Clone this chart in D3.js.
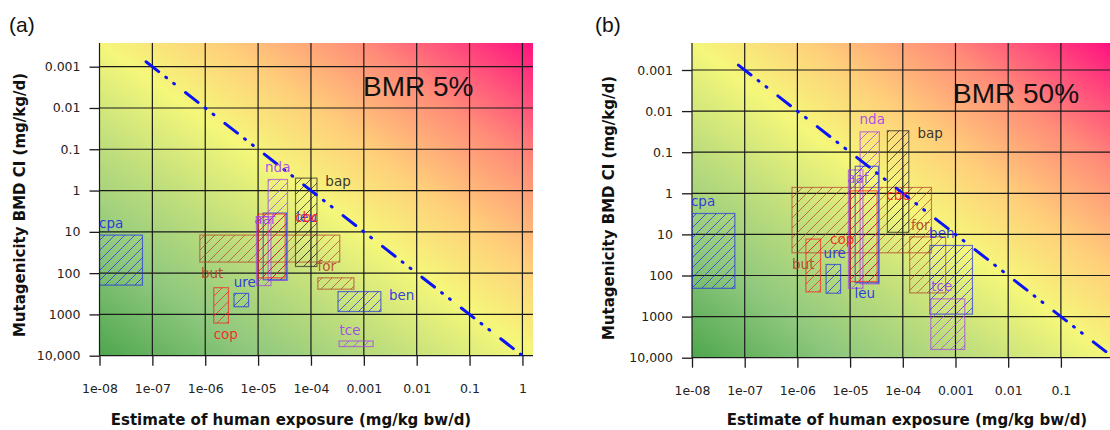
<!DOCTYPE html>
<meta charset="utf-8">
<style>
body { margin: 0; background: #fff; }
.tick text { font: 12.5px "DejaVu Sans", sans-serif; fill: #222; }
.tick line { stroke: #1a1a1a; stroke-width: 1.3; }
.grid line { stroke: #1a1a1a; stroke-width: 1.2; }
.titles { font: bold 15px "DejaVu Sans", sans-serif; fill: #111; }
.lab { font: 13.5px "DejaVu Sans", sans-serif; }
</style>
<body>
<script src="https://cdnjs.cloudflare.com/ajax/libs/d3/7.8.5/d3.min.js"></script>
<script>

// compounds and their exposure range (mg/kg bw/d), same in both panels
var compounds = ["cpa", "but", "ure", "cop", "aaf", "nda", "leu", "cbc", "bap", "for", "ben", "tce"];
var expLo = [1.0e-8, 7.9e-7, 3.5e-6, 1.45e-6, 9.3e-6, 1.55e-5, 1.25e-5, 1.0e-5, 5.1e-5, 1.35e-4, 3.25e-4, 3.4e-4];
var expHi = [6.5e-8, 3.5e-4, 6.6e-6, 2.75e-6, 1.75e-5, 3.6e-5, 3.45e-5, 3.25e-5, 1.3e-4, 6.5e-4, 2.1e-3, 1.5e-3];

// BMD confidence interval, BMR 5%
var bmd5Lo = [12, 12, 310, 225, 4.3, 0.54, 3.5, 3.7, 0.5, 130, 280, 4400];
var bmd5Hi = [195, 54, 650, 1620, 200, 150, 145, 130, 69, 245, 850, 6000];
// BMD confidence interval, BMR 50%
var bmd50Lo = [3.1, 0.72, 54, 13, 0.27, 0.032, 0.22, 0.87, 0.03, 11.5, 18.6, 370];
var bmd50Hi = [205, 28, 270, 250, 205, 160, 150, 140, 8.9, 265, 870, 6300];

// label anchors (exposure, BMD) for each panel
var lab5X = [1.66e-8, 1.35e-6, 5.6e-6, 2.45e-6, 1.35e-5, 2.35e-5, 8.3e-5, 8.3e-5, 3.25e-4, 2.0e-4, 5.2e-3, 5.5e-4];
var lab5Y = [6.2, 100, 162, 2950, 4.9, 0.27, 4.4, 4.4, 0.59, 68, 340, 2400];
var lab50X = [1.62e-8, 1.29e-6, 5.1e-6, 7.1e-6, 1.41e-5, 2.63e-5, 1.9e-5, 8.1e-5, 3.3e-4, 2.14e-4, 5.5e-4, 5.5e-4];
var lab50Y = [1.55, 52, 29, 13, 0.43, 0.0155, 270, 1.1, 0.034, 5.9, 9.3, 182];

// reference line: BMD = 10^4 x exposure
var lineExp = [7.6e-8, 1];
var moe = 1e4;

var xTicks = [1e-8, 1e-7, 1e-6, 1e-5, 1e-4, 1e-3, 1e-2, 1e-1, 1];
var xTickLabels = ["1e-08", "1e-07", "1e-06", "1e-05", "1e-04", "0.001", "0.01", "0.1", "1"];
var yTicks = [1e-3, 1e-2, 1e-1, 1, 10, 100, 1000, 10000];
var yTickLabels = ["0.001", "0.01", "0.1", "1", "10", "100", "1000", "10,000"];

var colorOf = d3.scaleOrdinal()
    .domain(compounds)
    .range(["#1a2be6", "#b0402a", "#1a2be6", "#ff1a1a", "#a23cf0", "#a23cf0",
            "#1a2be6", "#ff1a1a", "#222222", "#b0402a", "#1a2be6", "#a23cf0"]);

var svg = d3.select("body").append("svg")
    .attr("width", 1110)
    .attr("height", 430);

var defs = svg.append("defs");

var grad = defs.append("linearGradient")
    .attr("id", "bg")
    .attr("x1", 0).attr("y1", 1).attr("x2", 1).attr("y2", 0);
[[0, "#4ea64e"], [0.18, "#8fc87e"], [0.34, "#bfde7c"], [0.5, "#f5f77a"],
 [0.64, "#ffcf7a"], [0.8, "#ff8c78"], [1, "#ff127f"]].forEach(function(s) {
  grad.append("stop").attr("offset", s[0]).attr("stop-color", s[1]);
});

// one hatch pattern per colour
var hatchColors = Array.from(new Set(colorOf.range()));
hatchColors.forEach(function(c) {
  var p = defs.append("pattern")
      .attr("id", "hatch" + c.slice(1))
      .attr("patternUnits", "userSpaceOnUse")
      .attr("width", 10).attr("height", 10);
  p.append("path")
      .attr("d", "M-1,1 l2,-2 M0,10 l10,-10 M9,11 l2,-2")
      .attr("stroke", c)
      .attr("stroke-opacity", 0.7)
      .attr("stroke-width", 1);
});

function panel(cfg) {
  var x = d3.scaleLog().domain(cfg.xDomain).range([cfg.left, cfg.right]);
  var y = d3.scaleLog().domain(cfg.yDomain).range([cfg.top, cfg.bottom]);
  var g = svg.append("g");

  g.append("rect")
      .attr("x", cfg.left).attr("y", cfg.top)
      .attr("width", cfg.right - cfg.left)
      .attr("height", cfg.bottom - cfg.top)
      .attr("fill", "url(#bg)");

  var clipId = "clip" + cfg.name;
  defs.append("clipPath").attr("id", clipId)
    .append("rect")
      .attr("x", cfg.left).attr("y", cfg.top)
      .attr("width", cfg.right - cfg.left)
      .attr("height", cfg.bottom - cfg.top);

  // gridlines
  var xt = xTicks.filter(function(d) { return x(d) <= cfg.right + 0.5; });
  g.append("g").attr("class", "grid")
    .selectAll("line").data(xt).enter().append("line")
      .attr("x1", x).attr("x2", x)
      .attr("y1", cfg.top).attr("y2", cfg.bottom);
  g.append("g").attr("class", "grid")
    .selectAll("line").data(yTicks).enter().append("line")
      .attr("y1", y).attr("y2", y)
      .attr("x1", cfg.left).attr("x2", cfg.right);

  // axes
  g.append("g")
      .attr("transform", "translate(0," + cfg.bottom + ")")
      .call(d3.axisBottom(x).tickValues(xt)
          .tickFormat(function(d, i) { return xTickLabels[i]; })
          .tickSize(10).tickPadding(18))
      .call(function(a) { a.select(".domain").remove(); });

  g.append("g")
      .attr("transform", "translate(" + cfg.left + ",0)")
      .call(d3.axisLeft(y).tickValues(yTicks)
          .tickFormat(function(d, i) { return yTickLabels[i]; })
          .tickSize(10).tickPadding(9))
      .call(function(a) { a.select(".domain").remove(); });

  var plot = g.append("g").attr("clip-path", "url(#" + clipId + ")");

  var idx = d3.range(compounds.length);
  plot.selectAll(".box")
      .data(idx)
    .enter().append("rect")
      .attr("class", "box")
      .attr("x", function(i) { return x(expLo[i]); })
      .attr("width", function(i) { return x(expHi[i]) - x(expLo[i]); })
      .attr("y", function(i) { return y(cfg.lo[i]); })
      .attr("height", function(i) { return y(cfg.hi[i]) - y(cfg.lo[i]); })
      .attr("fill", function(i) { return "url(#hatch" + colorOf(compounds[i]).slice(1) + ")"; })
      .attr("stroke", function(i) { return colorOf(compounds[i]); })
      .attr("stroke-opacity", 0.65)
      .attr("stroke-width", 1.2);

  // margin-of-exposure line
  var line = d3.line()
      .x(function(d) { return x(d); })
      .y(function(d) { return y(d * moe); });
  plot.append("path")
      .datum(lineExp)
      .attr("d", line)
      .attr("fill", "none")
      .attr("stroke", "#0a14f5")
      .attr("stroke-width", 3)
      .attr("stroke-dasharray", "16,9,1,9,1,14")
      .attr("stroke-linecap", "round");

  plot.selectAll(".lab")
      .data(idx)
    .enter().append("text")
      .attr("class", "lab")
      .attr("x", function(i) { return x(cfg.labX[i]); })
      .attr("y", function(i) { return y(cfg.labY[i]); })
      .attr("dy", "0.35em")
      .attr("text-anchor", "middle")
      .attr("fill", function(i) { return colorOf(compounds[i]); })
      .attr("fill-opacity", 0.9)
      .text(function(i) { return compounds[i]; });

  g.append("text")
      .attr("x", cfg.bmrX).attr("y", 96 + cfg.bmrDy)
      .attr("font-family", "Liberation Sans, Arial, sans-serif")
      .attr("font-size", 28)
      .attr("fill", "#111")
      .text(cfg.bmr);

  g.append("text")
      .attr("x", cfg.tagX).attr("y", 32)
      .attr("font-family", "Liberation Sans, Arial, sans-serif")
      .attr("font-size", 21)
      .attr("fill", "#111")
      .text(cfg.tag);

  g.append("text")
      .attr("class", "titles")
      .attr("x", cfg.xTitleX).attr("y", 425)
      .attr("text-anchor", "middle")
      .text("Estimate of human exposure (mg/kg bw/d)");

  g.append("text")
      .attr("class", "titles")
      .attr("transform", "translate(" + cfg.yTitleX + "," + cfg.yTitleY + ") rotate(-90)")
      .attr("text-anchor", "middle")
      .attr("dy", "0.35em")
      .text("Mutagenicity BMD CI (mg/kg/d)");
}

panel({
  name: "a", tag: "(a)", tagX: 9, bmr: "BMR 5%", bmrX: 363, bmrDy: 0,
  left: 99.5, right: 533, top: 43, bottom: 355.7,
  xDomain: [1e-8, Math.pow(10, 0.2)], yDomain: [Math.pow(10, -3.574), 1e4],
  lo: bmd5Lo, hi: bmd5Hi, labX: lab5X, labY: lab5Y,
  xTitleX: 291, yTitleX: 20, yTitleY: 205
});

panel({
  name: "b", tag: "(b)", tagX: 595, bmr: "BMR 50%", bmrX: 953, bmrDy: 7,
  left: 692, right: 1110, top: 43, bottom: 357.7,
  xDomain: [1e-8, Math.pow(10, -0.068)], yDomain: [Math.pow(10, -3.657), 1e4],
  lo: bmd50Lo, hi: bmd50Hi, labX: lab50X, labY: lab50Y,
  xTitleX: 907, yTitleX: 609, yTitleY: 208
});
</script>
</body>
